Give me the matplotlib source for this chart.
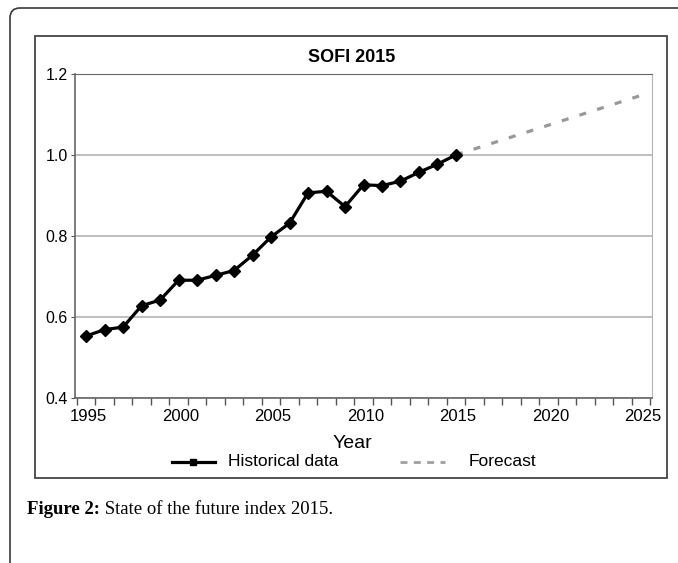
import numpy as np
import matplotlib
matplotlib.use("Agg")
import matplotlib.pyplot as plt
from matplotlib.lines import Line2D
from matplotlib.patches import Rectangle, FancyBboxPatch

# data
hist_years = [1995, 1996, 1997, 1998, 1999, 2000, 2001, 2002, 2003, 2004, 2005,
              2006, 2007, 2008, 2009, 2010, 2011, 2012, 2013, 2014, 2015]
hist_vals = [0.552, 0.568, 0.574, 0.627, 0.641, 0.690, 0.690, 0.702, 0.714, 0.752, 0.797,
             0.831, 0.906, 0.910, 0.872, 0.926, 0.924, 0.935, 0.957, 0.977, 1.000]
fc_years = [2015, 2025]
fc_vals = [1.000, 1.147]
xtick_years = [1995, 2000, 2005, 2010, 2015, 2020, 2025]
ytick_vals = [0.4, 0.6, 0.8, 1.0, 1.2]

plt.rcParams['font.family'] = ['Liberation Sans', 'DejaVu Sans']

W, H = 678, 563
fig = plt.figure(figsize=(W / 100, H / 100), dpi=100)

# outer page frame with the rounded corner top-left
frame = FancyBboxPatch((10, -60), 800, 555 + 60, boxstyle="round,pad=0,rounding_size=10",
                       transform=None, fill=False, ec='#3a3a3a', lw=1.2)
fig.patches.append(frame)

# chart box
box = Rectangle((35 / W, 1 - 478 / H), (667 - 35) / W, (478 - 36) / H,
                transform=fig.transFigure, fill=False, ec='#444444', lw=1.3)
fig.patches.append(box)

ax = fig.add_axes([75 / W, 1 - 397.5 / H, (652 - 75) / W, (397.5 - 74) / H])
dash = (0, (2.2, 3.6))
ax.plot(hist_years, hist_vals, color='black', lw=2.3, marker='D', ms=6, zorder=3)
ax.plot(fc_years, fc_vals, color='#999999', lw=2.3, ls=dash, zorder=2)

ax.set_xlim(1994.4, 2025.6)
ax.set_ylim(0.4, 1.2)
ax.set_yticks(ytick_vals)
ax.set_yticklabels([f"{v:.1f}" for v in ytick_vals], fontsize=11.5)
ax.yaxis.grid(True, color='#b4b4b4', lw=1.2)
ax.set_axisbelow(True)

# ticks sit between the years, labels on the years
ax.set_xticks(np.arange(1994.5, 2026, 1.0))
ax.set_xticklabels([])
ax.tick_params(axis='x', length=5, color='#555555', width=1)
ax.tick_params(axis='y', length=3, color='#555555', pad=2)
for yr in xtick_years:
    ax.text(yr + 0.1, -0.035, str(yr), transform=ax.get_xaxis_transform(),
            ha='center', va='top', fontsize=12)

ax.spines['right'].set_color('#b4b4b4')
ax.spines['top'].set_color('#666666')
for side in ['left', 'bottom']:
    ax.spines[side].set_color('#666666')
    ax.spines[side].set_linewidth(1.2)

fig.text(352 / W, 1 - 57 / H, 'SOFI 2015', ha='center', va='center',
         fontsize=13, fontweight='bold')
fig.text(352 / W, 1 - 443 / H, 'Year', ha='center', va='center', fontsize=14)

# legend laid out by hand, the way the original spaces it
ly = 1 - 462 / H
fig.add_artist(Line2D([172 / W, 215 / W], [ly, ly], color='black', lw=2.3,
                      transform=fig.transFigure))
fig.add_artist(Line2D([193 / W], [ly], color='black', marker='s', ms=5,
                      transform=fig.transFigure))
fig.text(228 / W, ly, 'Historical data', ha='left', va='center', fontsize=12.5)
fig.add_artist(Line2D([400 / W, 445 / W], [ly, ly], color='#a0a0a0', lw=2,
                      ls=(0, (2.5, 2.3)), transform=fig.transFigure))
fig.text(469 / W, ly, 'Forecast', ha='left', va='center', fontsize=12.5)

cap = fig.text(27 / W, 1 - 510 / H, 'Figure 2:', ha='left', va='center',
               fontsize=13.5, fontweight='bold', family='Liberation Serif')
ax.annotate(' State of the future index 2015.', xy=(1, 0), xycoords=cap,
            ha='left', va='bottom', fontsize=13.5, family='Liberation Serif',
            annotation_clip=False)

fig.savefig('out.png', dpi=100)
